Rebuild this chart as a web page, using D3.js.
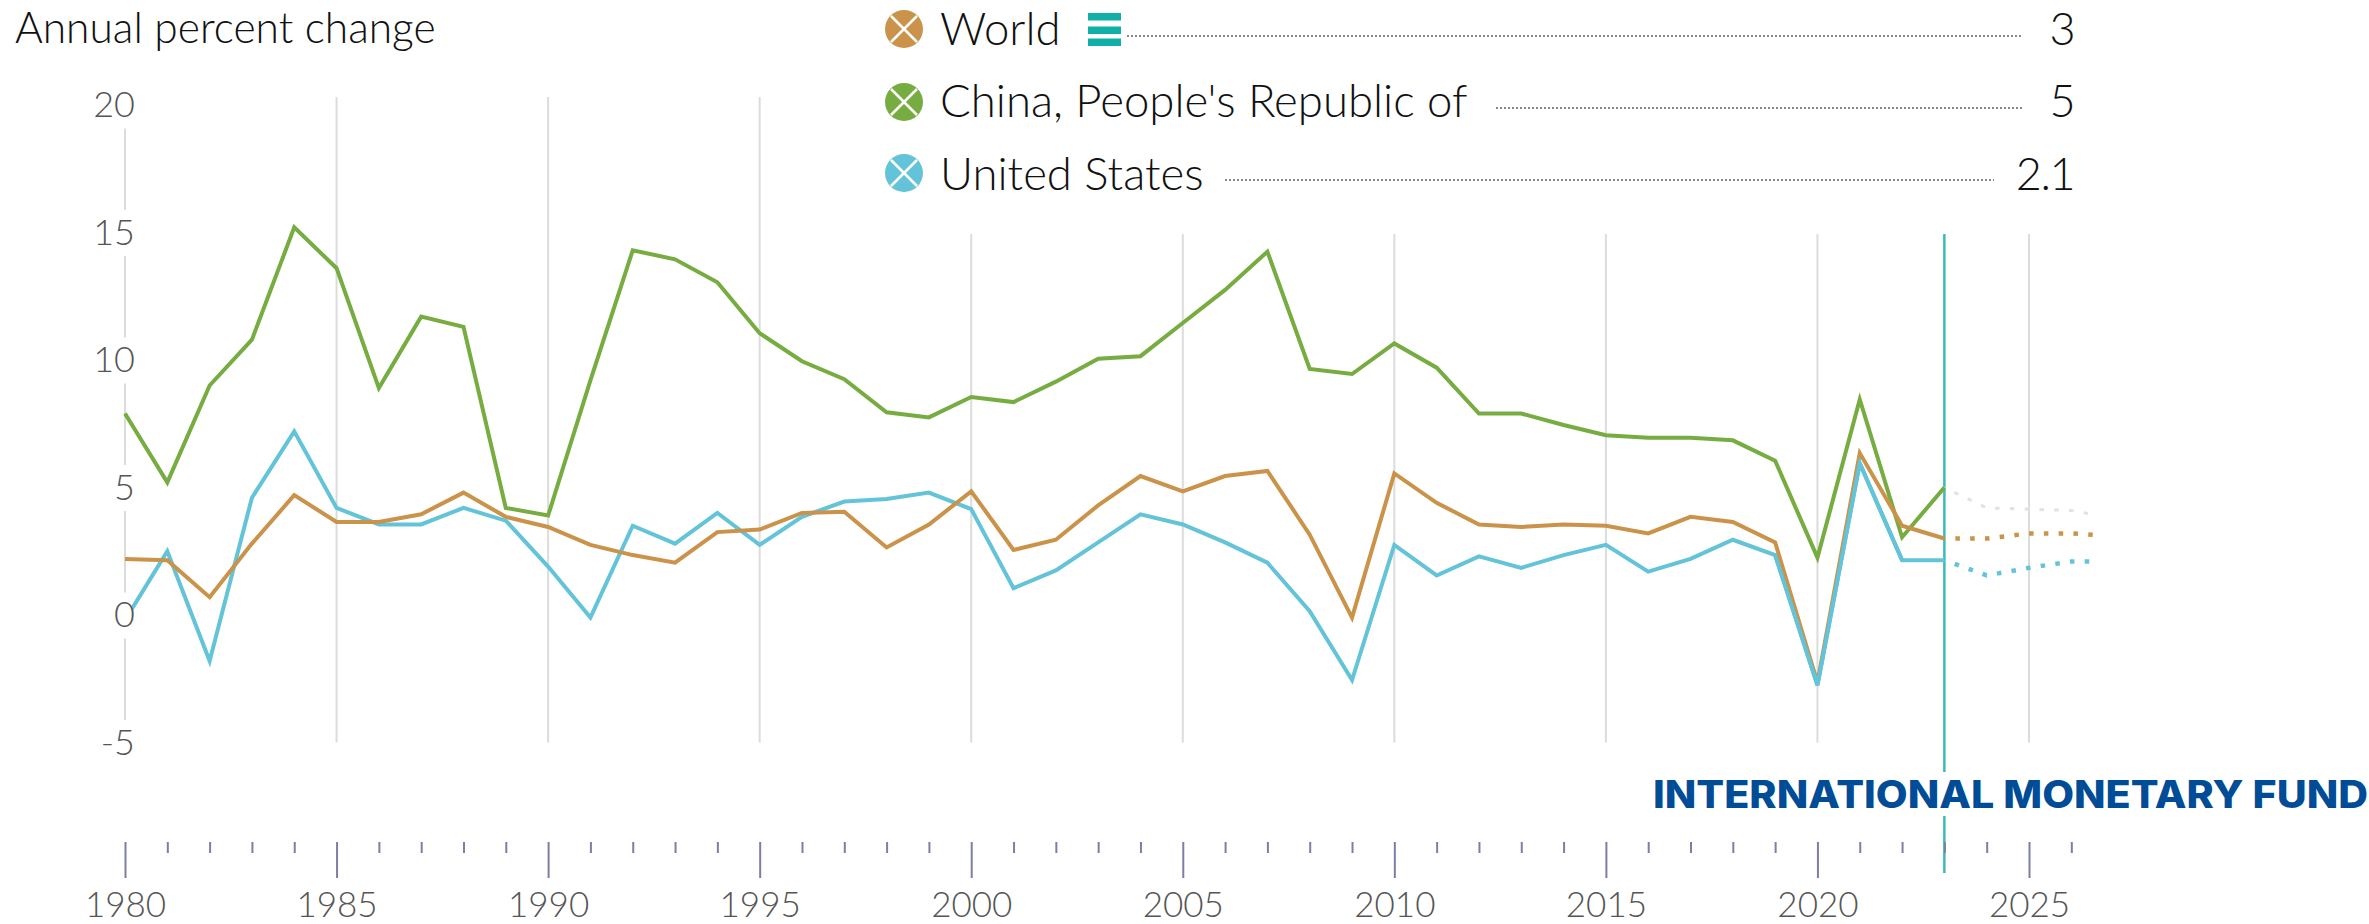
<!DOCTYPE html>
<html>
<head>
<meta charset="utf-8">
<script src="https://cdn.jsdelivr.net/npm/d3@7"></script>
<style>
  html, body { margin: 0; padding: 0; background: #fff; overflow: hidden; }
  text { font-family: Lato, "Open Sans", sans-serif; }
</style>
</head>
<body>
<div id="chart"></div>
<script>
// values
const years = d3.range(1980, 2024);
const forecastYears = [2023, 2024, 2025, 2026, 2027];

const world = [2.2, 2.15, 0.7, 2.8, 4.7, 3.65, 3.65, 3.95, 4.8, 3.85, 3.45, 2.75, 2.35, 2.05, 3.25,
  3.35, 4.0, 4.05, 2.65, 3.55, 4.85, 2.55, 2.95, 4.3, 5.45, 4.85, 5.45, 5.65, 3.15, -0.1,
  5.55, 4.4, 3.55, 3.45, 3.55, 3.5, 3.2, 3.85, 3.65, 2.85, -2.65, 6.35, 3.5, 3.0];
const china = [7.9, 5.2, 9.0, 10.8, 15.2, 13.6, 8.9, 11.7, 11.3, 4.2, 3.9, 9.2, 14.3, 13.95, 13.05,
  11.05, 9.95, 9.25, 7.95, 7.75, 8.55, 8.35, 9.15, 10.05, 10.15, 11.45, 12.75, 14.25, 9.65, 9.45,
  10.65, 9.7, 7.9, 7.9, 7.45, 7.05, 6.95, 6.95, 6.85, 6.05, 2.25, 8.45, 3.05, 5.0];
const usa = [-0.2, 2.5, -1.8, 4.6, 7.2, 4.2, 3.55, 3.55, 4.2, 3.7, 1.9, -0.1, 3.5, 2.8, 4.0,
  2.75, 3.85, 4.45, 4.55, 4.8, 4.15, 1.05, 1.75, 2.85, 3.95, 3.55, 2.85, 2.05, 0.15, -2.55,
  2.75, 1.55, 2.3, 1.85, 2.35, 2.75, 1.7, 2.2, 2.95, 2.35, -2.75, 5.95, 2.15, 2.15];

const worldForecast = [3.0, 3.0, 3.2, 3.2, 3.1];
const chinaForecast = [5.0, 4.2, 4.15, 4.1, 3.8];
const usaForecast = [2.15, 1.55, 1.85, 2.1, 2.1];

const yTicks = [-5, 0, 5, 10, 15, 20];
const majorYears = d3.range(1980, 2026, 5);
const minorYears = d3.range(1980, 2027).filter(d => d % 5 != 0);

const legendNames = ["World", "China, People's Republic of", "United States"];
const legendValues = ["3", "5", "2.1"];

const orange = "#cb9249", green = "#77ac41", blue = "#63c3d9", teal = "#3db9b9";

const width = 2369, height = 924;

const svg = d3.select("#chart")
    .append("svg")
    .attr("width", width)
    .attr("height", height)
    .style("display", "block");

const x = d3.scaleLinear().domain([1980, 2025]).range([125, 2029]);
const y = d3.scaleLinear().domain([-5, 20]).range([742.5, 105]);

const line = d3.line().x(d => x(d[0])).y(d => y(d[1]));

svg.append("clipPath").attr("id", "plot")
    .append("rect").attr("x", 0).attr("y", 0).attr("width", 2097).attr("height", height);

// vertical grid, one per labelled year
svg.append("g").selectAll("line")
    .data(majorYears)
    .join("line")
    .attr("x1", d => x(d)).attr("x2", d => x(d))
    .attr("y1", 97).attr("y2", y(-5))
    .attr("stroke", "#dcdcdc")
    .attr("stroke-width", 2);

// legend sits on a white panel that hides the top of the grid
svg.append("rect")
    .attr("x", 870).attr("y", 0)
    .attr("width", width - 870).attr("height", 234)
    .attr("fill", "#fff");

// current year marker
svg.append("line")
    .attr("x1", x(2023)).attr("x2", x(2023))
    .attr("y1", 234).attr("y2", 873)
    .attr("stroke", teal)
    .attr("stroke-width", 2.5);

// forecast dots
const forecasts = [
  [chinaForecast, "#e2e2e2", 3],
  [worldForecast, orange, 4.5],
  [usaForecast, blue, 4.5]
];
forecasts.forEach(function(f) {
  svg.append("path")
    .datum(forecastYears.map((yr, i) => [yr, f[0][i]]))
    .attr("clip-path", "url(#plot)")
    .attr("fill", "none")
    .attr("stroke", f[1])
    .attr("stroke-width", f[2])
    .attr("stroke-dasharray", "4.5 10.3")
    .attr("stroke-dashoffset", -11)
    .attr("d", line);
});

// history lines
[[usa, blue], [china, green], [world, orange], ].forEach(function(s) {
  svg.append("path")
    .datum(years.map((yr, i) => [yr, s[0][i]]))
    .attr("fill", "none")
    .attr("stroke", s[1])
    .attr("stroke-width", 4)
    .attr("stroke-linejoin", "miter")
    .attr("d", line);
});
// blue runs over the orange around the 2020 dip
svg.append("path")
    .datum(years.slice(39, 43).map((yr) => [yr, usa[yr - 1980]]))
    .attr("fill", "none")
    .attr("stroke", blue)
    .attr("stroke-width", 4)
    .attr("d", line);

// y axis labels with a white box that breaks the first grid line
const yAxis = svg.append("g")
    .attr("transform", "translate(135, 0)")
    .call(d3.axisLeft(y).tickValues(yTicks).tickSize(0).tickPadding(0).tickFormat(d => String(d)));
yAxis.select(".domain").remove();
yAxis.selectAll(".tick").insert("rect", "text")
    .attr("x", -45).attr("y", -23)
    .attr("width", 42).attr("height", 46)
    .attr("fill", "#fff");
yAxis.selectAll("text")
    .attr("font-family", "Lato")
    .attr("font-size", 36)
    .attr("font-weight", 300)
    .attr("fill", "#555");

// x axis: long ticks with labels, short ticks between
const axisY = 842;
const xMajor = svg.append("g")
    .attr("transform", `translate(0, ${axisY})`)
    .call(d3.axisBottom(x).tickValues(majorYears).tickFormat(d3.format("d")).tickSize(36).tickPadding(14));
xMajor.select(".domain").remove();
xMajor.selectAll("line").attr("stroke", "#7d7da8").attr("stroke-width", 2);
xMajor.selectAll("text")
    .attr("font-family", "Lato")
    .attr("font-size", 35)
    .attr("font-weight", 300)
    .attr("fill", "#555");

const xMinor = svg.append("g")
    .attr("transform", `translate(0, ${axisY})`)
    .call(d3.axisBottom(x).tickValues(minorYears).tickFormat("").tickSize(11));
xMinor.select(".domain").remove();
xMinor.selectAll("line").attr("stroke", "#7d7da8").attr("stroke-width", 2);

// axis title
svg.append("text")
    .attr("x", 15).attr("y", 43)
    .attr("font-size", 42.5)
    .attr("font-weight", 300)
    .attr("fill", "#111")
    .text("Annual percent change");

// legend rows
const legendColors = [orange, green, blue];
const rowY = [29, 102, 173];
const baseY = [45, 117, 190];
const dotFrom = [1127, 1496, 1225];
const dotTo = [2022, 2022, 1994];
const dotY = [36, 108, 180];

legendNames.forEach(function(name, i) {
  const g = svg.append("g");
  g.append("circle")
    .attr("cx", 904).attr("cy", rowY[i]).attr("r", 19)
    .attr("fill", legendColors[i]);
  [[-1, -1], [-1, 1]].forEach(function(d) {
    g.append("line")
      .attr("x1", 904 + d[0] * 13).attr("x2", 904 - d[0] * 13)
      .attr("y1", rowY[i] + d[1] * 13).attr("y2", rowY[i] - d[1] * 13)
      .attr("stroke", "#fff")
      .attr("stroke-width", 2.5);
  });
  g.append("text")
    .attr("x", 940).attr("y", baseY[i])
    .attr("font-size", 45.5)
    .attr("font-weight", 300)
    .attr("fill", "#111")
    .text(name);
  g.append("line")
    .attr("x1", dotFrom[i]).attr("x2", dotTo[i])
    .attr("y1", dotY[i]).attr("y2", dotY[i])
    .attr("stroke", "#888")
    .attr("stroke-width", 2)
    .attr("stroke-dasharray", "2 2");
  g.append("text")
    .attr("x", 2074).attr("y", baseY[i])
    .attr("text-anchor", "end")
    .attr("font-size", 45)
    .attr("font-weight", 300)
    .attr("letter-spacing", -1.5)
    .attr("fill", "#111")
    .text(legendValues[i]);
});

// menu icon next to World
[13, 26.5, 38.5].forEach(function(top) {
  svg.append("rect")
    .attr("x", 1088).attr("y", top)
    .attr("width", 33).attr("height", 7.5)
    .attr("fill", "#10b0a8");
});

// logo line
svg.append("rect")
    .attr("x", 1650).attr("y", 772)
    .attr("width", width - 1650).attr("height", 44)
    .attr("fill", "#fff");
svg.append("text")
    .attr("x", 1653).attr("y", 808)
    .style("font-family", "Inter")
    .attr("font-size", 38)
    .attr("font-weight", 800)
    .attr("fill", "#004c97")
    .attr("textLength", 715)
    .attr("lengthAdjust", "spacingAndGlyphs")
    .text("INTERNATIONAL MONETARY FUND");
</script>
</body>
</html>
